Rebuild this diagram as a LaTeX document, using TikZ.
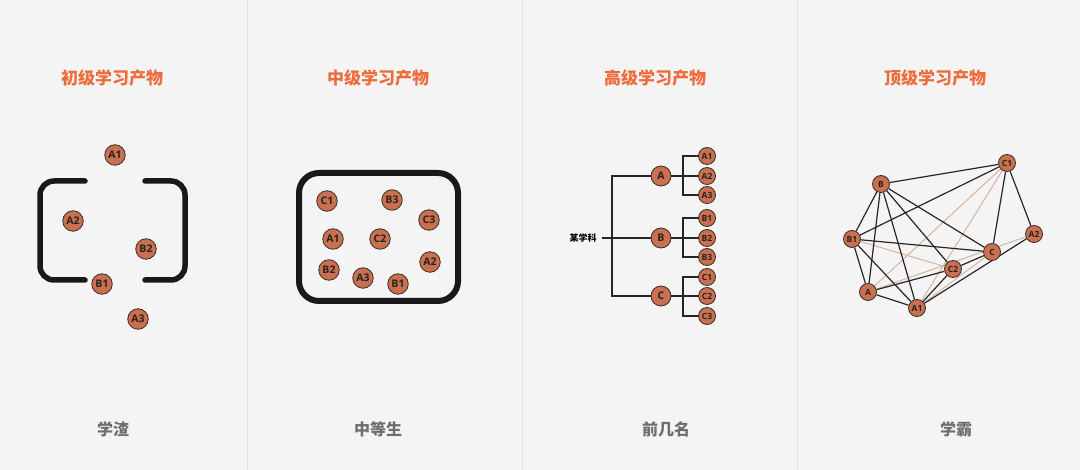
\documentclass[tikz,border=0pt]{standalone}
\usepackage{fontspec}
\usetikzlibrary{backgrounds}
\newfontfamily\cjk{Noto Sans CJK SC}
\newfontfamily\labfont{Open Sans}
\definecolor{bgc}{HTML}{F4F4F4}
\definecolor{divc}{HTML}{E2E2E2}
\definecolor{titlec}{HTML}{EE6B3C}
\definecolor{subc}{HTML}{6E6E6E}
\definecolor{nodefill}{HTML}{C8704F}
\definecolor{nodeedge}{HTML}{3A2C26}
\definecolor{labtext}{HTML}{2A2220}
\definecolor{darkline}{HTML}{262626}
\definecolor{lightline}{HTML}{D9B8A4}
\begin{document}
\begin{tikzpicture}[x=1pt,y=-1pt,
  bubble/.style={circle,draw=nodeedge,fill=nodefill,line width=0.8pt,minimum size=20.5pt,inner sep=0pt,
    font=\labfont\bfseries\fontsize{10.5}{10.5}\selectfont,text=labtext},
  bigbub/.style={bubble,minimum size=20pt,font=\labfont\bfseries\fontsize{10.5}{10.5}\selectfont},
  smallbub/.style={bubble,minimum size=17pt,font=\labfont\bfseries\fontsize{8.5}{8.5}\selectfont},
  netbub/.style={bubble,minimum size=17pt,font=\labfont\bfseries\fontsize{8.5}{8.5}\selectfont},
  titletext/.style={font=\cjk\bfseries\fontsize{17}{17}\selectfont,text=titlec},
  subtext/.style={font=\cjk\bfseries\fontsize{16}{16}\selectfont,text=subc},
  frame/.style={draw=black!90,line width=5.5pt,line cap=round},
  treeline/.style={draw=darkline,line width=1.1pt},
  dk/.style={draw=darkline,line width=1.2pt},
  lt/.style={draw=lightline,line width=1.1pt},
  divider/.style={draw=divc,line width=1pt}]
\begin{scope}[on background layer]
  \fill[bgc] (0,0) rectangle (1080,470);
\end{scope}
\useasboundingbox (0,0) rectangle (1080,470);
\draw[divider] (247.5,0) -- (247.5,470);
\draw[divider] (522.5,0) -- (522.5,470);
\draw[divider] (797.5,0) -- (797.5,470);

% titles
\node[titletext] (t1) at (112,78) {初级学习产物};
\node[titletext] (t2) at (378,78) {中级学习产物};
\node[titletext] (t3) at (655,78) {高级学习产物};
\node[titletext] (t4) at (935,78) {顶级学习产物};
\node[subtext] (s1) at (113,429) {学渣};
\node[subtext] (s2) at (378,429) {中等生};
\node[subtext] (s3) at (666,429) {前几名};
\node[subtext] (s4) at (956,429) {学霸};

% panel 1
\draw[frame,rounded corners=14pt] (85,181) -- (40,181) -- (40,280) -- (85,280);
\draw[frame,rounded corners=14pt] (145,181) -- (185,181) -- (185,280) -- (145,280);
\node[bubble] (p1a1) at (115,155) {A1};
\node[bubble] (p1a2) at (73,221) {A2};
\node[bubble] (p1b2) at (146,249) {B2};
\node[bubble] (p1b1) at (102,284) {B1};
\node[bubble] (p1a3) at (138,319) {A3};

% panel 2
\draw[draw=black!90,line width=6pt,rounded corners=20pt] (299,173) rectangle (458,301);
\node[bubble] (p2c1) at (327,201) {C1};
\node[bubble] (p2b3) at (392,200) {B3};
\node[bubble] (p2c3) at (429,220) {C3};
\node[bubble] (p2a1) at (333,239) {A1};
\node[bubble] (p2c2) at (380,239) {C2};
\node[bubble] (p2a2) at (430,262) {A2};
\node[bubble] (p2b2) at (329,270) {B2};
\node[bubble] (p2a3) at (363,278) {A3};
\node[bubble] (p2b1) at (398,284) {B1};

% panel 3
\node[font=\cjk\bfseries\fontsize{9}{9}\selectfont,text=black,inner sep=1pt] (subj) at (583,238) {某学科};
\node[bigbub] (ta) at (661,176) {A};
\node[bigbub] (tb) at (661,238) {B};
\node[bigbub] (tc) at (661,296) {C};
\foreach \n/\y in {a1/156,a2/176,a3/195,b1/218,b2/238,b3/257,c1/277,c2/296,c3/316}{
  \node[smallbub] (t\n) at (707,\y) {\MakeUppercase{\n}};
}
\coordinate (trunk) at (612,238);
\coordinate (subjend) at ([xshift=4pt]subj.east);
\draw[treeline] (subjend) -- (tb.west);
\draw[treeline] (ta.west) -- (ta.west -| trunk) -- (tc.west -| trunk) -- (tc.west);
\foreach \g in {a,b,c}{
  \coordinate (bar\g) at (683,0);
  \draw[treeline] (t\g.east) -- (t\g2.west);
  \draw[treeline] (t\g1.west) -- (t\g1.west -| bar\g) -- (t\g3.west -| bar\g) -- (t\g3.west);
}

% panel 4
\node[netbub] (nc1) at (1007,163) {C1};
\node[netbub] (nb) at (881,184) {B};
\node[netbub] (nb1) at (852,239) {B1};
\node[netbub] (na2) at (1034,234) {A2};
\node[netbub] (nc) at (992,252) {C};
\node[netbub] (nc2) at (953,269) {C2};
\node[netbub] (na) at (868,292) {A};
\node[netbub] (na1) at (917,308) {A1};
\begin{scope}[on background layer]
  \foreach \u/\v in {na/nc1, na1/nc1, nb1/nc2, na/na2, na1/nc}{
    \draw[lt] (\u) -- (\v);
  }
  \foreach \u/\v in {nb/nc1, nb1/nc1, nc1/nc, nc1/na2, nb/nb1, nb/na, nb/na1, nb/nc2, nb/nc,
                     nb1/nc, nb1/na, nb1/na1, na/nc2, na/na1, na1/nc2, nc2/nc, na1/na2}{
    \draw[dk] (\u) -- (\v);
  }
\end{scope}
\end{tikzpicture}
\end{document}
